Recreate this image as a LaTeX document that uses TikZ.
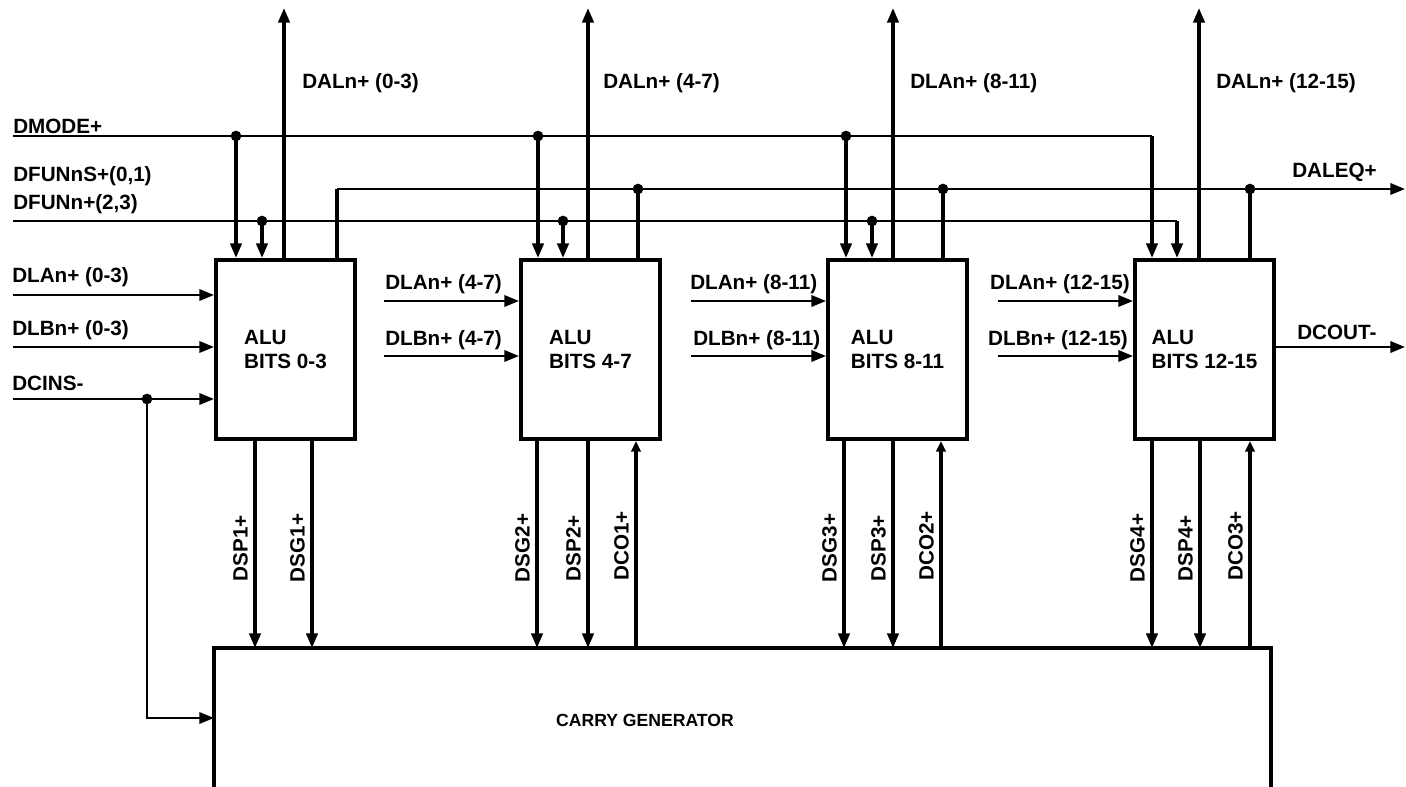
\documentclass[tikz,border=0pt]{standalone}
\usepackage{fontspec}
\setmainfont{Liberation Sans}
\usetikzlibrary{arrows.meta,calc}
\newcommand\lblfont{\fontsize{15.5}{18}\selectfont\bfseries}
\newcommand\cgfont{\fontsize{13.2}{16}\selectfont\bfseries}
\tikzset{
  wire/.style={line width=1.8pt},
  vwire/.style={line width=2.5pt},
  arr/.style={wire,-{Triangle[length=11pt,width=8.5pt]}},
  varr/.style={vwire,-{Triangle[length=11pt,width=8.5pt]}},
  uparr/.style={vwire,-{Triangle[length=8pt,width=7pt]}},
  alubox/.style={draw,line width=3pt,minimum width=104.25pt,minimum height=134.25pt,
    anchor=north west,inner sep=0pt,align=left,font=\lblfont},
  lbl/.style={font=\lblfont,inner sep=0pt},
  lblw/.style={lbl,anchor=west},
  vlbl/.style={lbl,rotate=90,anchor=south},
  dot/.style={circle,fill,inner sep=0pt,minimum size=8pt}
}
\begin{document}
\begin{tikzpicture}[x=0.75pt,y=-0.75pt]
\useasboundingbox (0,0) rectangle (1406,787);
% blocks
\node[alubox] (alu1) at (214,258) {ALU\\BITS 0-3};
\node[alubox] (alu2) at (519,258) {ALU\\BITS 4-7};
\node[alubox] (alu3) at (826,258) {ALU\\BITS 8-11};
\node[alubox] (alu4) at (1133,258) {ALU\\BITS 12-15};
\node[minimum width=792pt,minimum height=114pt,anchor=north west,inner sep=0pt] (carry) at (214,648) {};
\draw[line width=3pt] (carry.south west) |- (carry.north east) -- (carry.south east);
\node[font=\cgfont,inner sep=0pt] (cgtext) at (645,720) {CARRY GENERATOR};

% DMODE+
\coordinate (dmodeIn) at (13,136);
\node[lblw] at (13,126) {DMODE+};
\draw[wire] (dmodeIn) -- (1152,136);
\draw[varr] (1152,136) -- (alu4.north -| 1152,0);
\node[dot] (dm1) at (236,136) {};
\node[dot] (dm2) at (538,136) {};
\node[dot] (dm3) at (846,136) {};
\draw[varr] (dm1.center) -- (alu1.north -| dm1);
\draw[varr] (dm2.center) -- (alu2.north -| dm2);
\draw[varr] (dm3.center) -- (alu3.north -| dm3);

% DFUN
\coordinate (dfunIn) at (13,221);
\node[lblw] at (13,176) {DFUNnS+(0,1)};
\node[lblw] at (13,204) {DFUNn+(2,3)};
\draw[wire] (dfunIn) -- (1177,221);
\draw[varr] (1177,221) -- (alu4.north -| 1177,0);
\node[dot] (df1) at (262,221) {};
\node[dot] (df2) at (563,221) {};
\node[dot] (df3) at (872,221) {};
\draw[varr] (df1.center) -- (alu1.north -| df1);
\draw[varr] (df2.center) -- (alu2.north -| df2);
\draw[varr] (df3.center) -- (alu3.north -| df3);

% DALEQ+
\coordinate (daleqOut) at (1405,189);
\node[lblw] at (1292,172) {DALEQ+};
\draw[vwire] (alu1.north -| 337,0) -- (337,189);
\draw[arr] (337,189) -- (daleqOut);
\node[dot] (eq2) at (638,189) {};
\node[dot] (eq3) at (943,189) {};
\node[dot] (eq4) at (1250,189) {};
\draw[vwire] (alu2.north -| eq2) -- (eq2.center);
\draw[vwire] (alu3.north -| eq3) -- (eq3.center);
\draw[vwire] (alu4.north -| eq4) -- (eq4.center);

% DAL outputs
\coordinate (dal1) at (284,8);
\coordinate (dal2) at (588,8);
\coordinate (dal3) at (893,8);
\coordinate (dal4) at (1199,8);
\draw[varr] (alu1.north -| dal1) -- (dal1);
\draw[varr] (alu2.north -| dal2) -- (dal2);
\draw[varr] (alu3.north -| dal3) -- (dal3);
\draw[varr] (alu4.north -| dal4) -- (dal4);
\node[lblw] at (302,83) {DALn+ (0-3)};
\node[lblw] at (603,83) {DALn+ (4-7)};
\node[lblw] at (910,83) {DLAn+ (8-11)};
\node[lblw] at (1216,83) {DALn+ (12-15)};

% ALU1 inputs
\coordinate (dla0) at (13,295);
\coordinate (dlb0) at (13,347);
\coordinate (dcin) at (13,399);
\node[lblw] at (12,277) {DLAn+ (0-3)};
\node[lblw] at (12,330) {DLBn+ (0-3)};
\node[lblw] at (12,383) {DCINS-};
\draw[arr] (dla0) -- (alu1.west |- dla0);
\draw[arr] (dlb0) -- (alu1.west |- dlb0);
\draw[arr] (dcin) -- (alu1.west |- dcin);
\node[dot] (cinDot) at (147,399) {};
\draw[arr] (cinDot.center) |- (carry.west |- 0,718);

% ALU2-4 inputs
\coordinate (dla2) at (384,301);
\coordinate (dlb2) at (384,356);
\coordinate (dla3) at (691,301);
\coordinate (dlb3) at (691,356);
\coordinate (dla4) at (998,301);
\coordinate (dlb4) at (998,356);
\draw[arr] (dla2) -- (alu2.west |- dla2);
\draw[arr] (dlb2) -- (alu2.west |- dlb2);
\draw[arr] (dla3) -- (alu3.west |- dla3);
\draw[arr] (dlb3) -- (alu3.west |- dlb3);
\draw[arr] (dla4) -- (alu4.west |- dla4);
\draw[arr] (dlb4) -- (alu4.west |- dlb4);
\node[lblw] at (385,284) {DLAn+ (4-7)};
\node[lblw] at (385,340) {DLBn+ (4-7)};
\node[lblw] at (690,284) {DLAn+ (8-11)};
\node[lblw] at (693,340) {DLBn+ (8-11)};
\node[lbl,anchor=east] at (1130,284) {DLAn+ (12-15)};
\node[lbl,anchor=east] at (1128,340) {DLBn+ (12-15)};

% DCOUT-
\coordinate (dcout) at (1405,347);
\draw[arr] (alu4.east |- dcout) -- (dcout);
\node[lblw] at (1297,332) {DCOUT-};

% bottom connections
\draw[varr] (alu1.south -| 255,0) -- (carry.north -| 255,0);
\draw[varr] (alu1.south -| 312,0) -- (carry.north -| 312,0);
\draw[varr] (alu2.south -| 537,0) -- (carry.north -| 537,0);
\draw[varr] (alu2.south -| 588,0) -- (carry.north -| 588,0);
\draw[uparr] (carry.north -| 636,0) -- (alu2.south -| 636,0);
\draw[varr] (alu3.south -| 844,0) -- (carry.north -| 844,0);
\draw[varr] (alu3.south -| 893,0) -- (carry.north -| 893,0);
\draw[uparr] (carry.north -| 941,0) -- (alu3.south -| 941,0);
\draw[varr] (alu4.south -| 1152,0) -- (carry.north -| 1152,0);
\draw[varr] (alu4.south -| 1200,0) -- (carry.north -| 1200,0);
\draw[uparr] (carry.north -| 1250,0) -- (alu4.south -| 1250,0);

\node[vlbl] at (248,548) {DSP1+};
\node[vlbl] at (305,548) {DSG1+};
\node[vlbl] at (530,548) {DSG2+};
\node[vlbl] at (581,548) {DSP2+};
\node[vlbl] at (629,546) {DCO1+};
\node[vlbl] at (837,548) {DSG3+};
\node[vlbl] at (886,548) {DSP3+};
\node[vlbl] at (934,546) {DCO2+};
\node[vlbl] at (1145,548) {DSG4+};
\node[vlbl] at (1193,548) {DSP4+};
\node[vlbl] at (1243,546) {DCO3+};
\end{tikzpicture}
\end{document}
